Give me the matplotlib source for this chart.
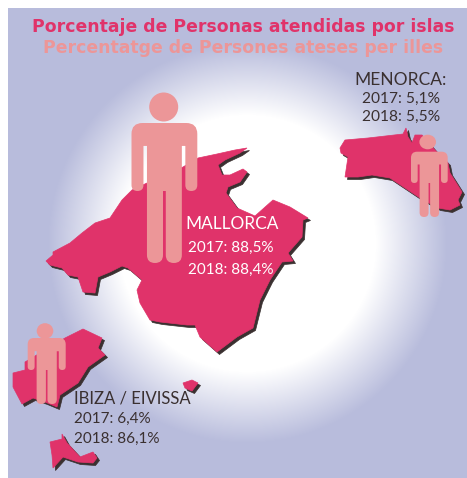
import matplotlib
matplotlib.use("Agg")
import matplotlib.pyplot as plt
import numpy as np
from matplotlib.colors import LinearSegmentedColormap
from matplotlib.patches import Polygon, Ellipse, PathPatch
from matplotlib.path import Path

# Island outlines (pixels)
mallorca = [(46, 261), (53, 255), (53, 252), (70, 243), (82, 233), (95, 223), (110, 218), (122, 200), (132, 190),
            (147, 183), (183, 167), (198, 158), (217, 154), (235, 150), (247, 148), (240, 153), (225, 160),
            (218, 165), (222, 175), (230, 175), (243, 169), (247, 172), (240, 182), (228, 187), (226, 193),
            (237, 208), (255, 216), (273, 200), (290, 207), (308, 218), (303, 220), (302, 237), (288, 253),
            (293, 261), (282, 262), (270, 280), (260, 300), (253, 328), (237, 337), (217, 352), (200, 337),
            (195, 325), (187, 325), (160, 322), (150, 320), (140, 303), (137, 290), (142, 280), (128, 268),
            (122, 266), (110, 272), (98, 277), (95, 293), (83, 292), (78, 277), (68, 275), (62, 268), (50, 265)]
menorca = [(340, 148), (345, 140), (368, 138), (403, 134), (406, 128), (408, 137), (412, 143), (415, 135),
           (422, 135), (435, 150), (448, 163), (450, 173), (462, 192), (458, 200), (460, 205), (450, 210),
           (438, 208), (420, 198), (405, 188), (390, 178), (372, 175), (358, 177), (345, 177), (348, 157),
           (341, 153)]
ibiza = [(13, 373), (25, 370), (25, 362), (45, 350), (65, 338), (83, 329), (102, 338), (98, 348), (105, 355),
         (88, 367), (78, 383), (60, 395), (57, 407), (45, 402), (33, 398), (22, 404), (13, 387)]
formentera = [(50, 442), (62, 439), (62, 434), (67, 443), (80, 457), (93, 452), (97, 458), (93, 463), (78, 462),
              (63, 457), (53, 468), (52, 455)]
cabrera = [(183, 383), (192, 380), (198, 383), (192, 391), (185, 388)]
islands = [mallorca, menorca, ibiza, formentera, cabrera]

title_es = "Porcentaje de Personas atendidas por islas"
title_ca = "Percentatge de Persones ateses per illes"
mallorca_lines = ["MALLORCA", "2017: 88,5%", "2018: 88,4%"]
menorca_lines = ["MENORCA:", "2017: 5,1%", "2018: 5,5%"]
ibiza_lines = ["IBIZA / EIVISSA", "2017: 6,4%", "2018: 86,1%"]

RED = "#e0336a"
PINK = "#ec9698"
LAV = "#b8bcdc"
DARK = "#3a3030"

fig = plt.figure(figsize=(4.67, 4.78), dpi=100, facecolor="white")
ax = fig.add_axes([0, 0, 1, 1])
ax.axis("off")

# Background glow
xx, yy = np.meshgrid(np.arange(8, 467), np.arange(8, 478))
dist = np.hypot(xx - 247, yy - 243)
glow = np.clip((dist - 128) / 72, 0, 1)
cmap = LinearSegmentedColormap.from_list("glow", ["white", LAV])
ax.imshow(glow, cmap=cmap, extent=(8, 467, 478, 8), aspect="auto", zorder=0)
ax.set_xlim(0, 467)
ax.set_ylim(478, 0)

for isl in islands:
    pts = np.array(isl)
    ax.add_patch(Polygon(pts + [2.5, 2.5], closed=True, fc=DARK, ec=DARK, lw=0.5, zorder=1))
    ax.add_patch(Polygon(pts, closed=True, fc=RED, ec=RED, lw=0.5, zorder=2))


def person(head_xy, head_rx, head_ry, x0, x1, top, arm_end, leg_end):
    s = (x1 - x0) / 66
    m = (x0 + x1) / 2
    r = 11 * s      # shoulder
    a = 12 * s      # arm width
    t = 17.5 * s    # half torso
    g = 1.4 * s     # half leg gap
    slit = top + 23 * s
    L, C = Path.LINETO, Path.CURVE3
    right = [(x1 - r, top), (x1, top), (x1, top + r), (x1, arm_end - a / 2), (x1, arm_end), (x1 - a / 2, arm_end),
             (x1 - a, arm_end), (x1 - a, arm_end - a / 2), (x1 - a, slit), (m + t, slit), (m + t, leg_end - 8 * s),
             (m + t, leg_end), (m + (t + g) / 2, leg_end), (m + g, leg_end), (m + g, leg_end - 8 * s), (m + g, arm_end)]
    rcodes = [Path.MOVETO, C, C, L, C, C, C, C, L, L, L, C, C, C, C, L]
    left = [(2 * m - vx, vy) for vx, vy in right[::-1]]
    lcodes = [L, L, C, C, C, C, L, L, L, C, C, C, C, L, C, C]
    verts = right + left + [right[0]]
    codes = rcodes + lcodes + [L]
    ax.add_patch(PathPatch(Path(verts, codes), fc=PINK, ec="none", zorder=3))
    ax.add_patch(Ellipse(head_xy, 2 * head_rx, 2 * head_ry, fc=PINK, ec="none", zorder=3))


person((163.7, 107), 14.5, 14.5, 131.5, 197.3, 123, 191, 263)
person((427.7, 142), 8.3, 7.3, 411, 447.7, 151.7, 183, 217)
person((45, 331), 8.3, 7.8, 27.7, 65.7, 338, 370, 404)

ax.text(243, 27, title_es, color=RED, fontsize=12.4, fontweight="bold", family="DejaVu Sans", ha="center", va="center", zorder=5)
ax.text(243.5, 47.5, title_ca, color=PINK, fontsize=12.4, fontweight="bold", family="DejaVu Sans", ha="center", va="center", zorder=5)

for txt, x, y, fs in zip(mallorca_lines, [185, 188, 188], [224, 248, 270], [12.4, 11, 11]):
    ax.text(x, y, txt, color="white", fontsize=fs, family="Lato", ha="left", va="center", zorder=5)
for txt, y, fs in zip(menorca_lines, [80, 99, 117], [12.5, 11.2, 11.2]):
    ax.text(401, y, txt, color=DARK, fontsize=fs, family="Lato", ha="center", va="center", zorder=5)
for txt, y, fs in zip(ibiza_lines, [398, 419, 439], [12, 11, 11]):
    ax.text(74, y, txt, color=DARK, fontsize=fs, family="Lato", ha="left", va="center", zorder=5)

fig.savefig("out.png", dpi=100)
